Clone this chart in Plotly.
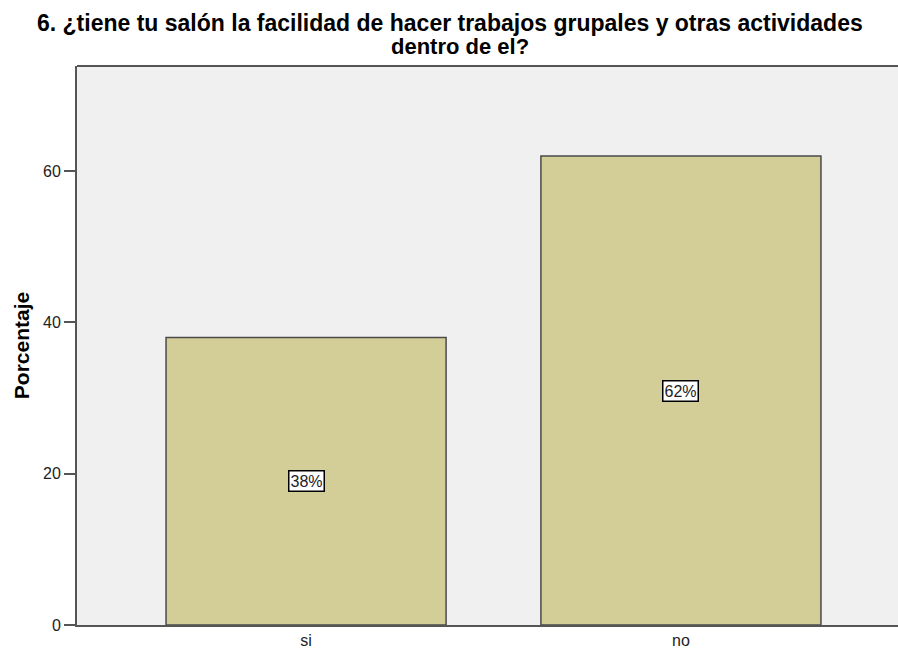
import plotly.graph_objects as go

categories = ["si", "no"]
percentages = [38, 62]
label_texts = ["38%", "62%"]
y_ticks = [0, 20, 40, 60]
title_lines = ["6. ¿tiene tu salón la facilidad de hacer trabajos grupales y otras actividades",
               "dentro de el?"]

FONT = "Liberation Sans, Arial"

fig = go.Figure()
fig.add_trace(go.Bar(
    x=categories, y=percentages, width=0.747,
    marker=dict(color="#d3ce97", line=dict(color="#4a4a4a", width=1.5)),
    hoverinfo="skip",
))

for c, v, t in zip(categories, percentages, label_texts):
    fig.add_annotation(x=c, y=v / 2, text=t, showarrow=False,
                       bgcolor="white", bordercolor="black", borderwidth=1.5, borderpad=1,
                       font=dict(family=FONT, size=16, color="#222"))

# title lines (paper coordinates, above the plot)
fig.add_annotation(xref="paper", yref="paper", x=0.454, y=1.0770, yanchor="middle",
                   text="<b>" + title_lines[0] + "</b>", showarrow=False,
                   font=dict(family=FONT, size=23, color="black"))
fig.add_annotation(xref="paper", yref="paper", x=0.466, y=1.0340, yanchor="middle",
                   text="<b>" + title_lines[1] + "</b>", showarrow=False,
                   font=dict(family=FONT, size=22, color="black"))

fig.add_shape(type="line", xref="paper", yref="paper", x0=0, x1=1, y0=1, y1=1,
              line=dict(color="#555", width=2))

fig.update_layout(
    width=898, height=654,
    margin=dict(l=77, r=0, t=66, b=29),
    paper_bgcolor="white", plot_bgcolor="#f0f0f0",
    showlegend=False,
    xaxis=dict(
        range=[-0.611, 1.579], showgrid=False, zeroline=False,
        showline=True, linecolor="#555", linewidth=2,
        ticks="", tickfont=dict(family=FONT, size=16, color="#222"),
    ),
    yaxis=dict(
        range=[0, 73.9], tickvals=y_ticks, showgrid=False, zeroline=False,
        showline=True, linecolor="#555", linewidth=2,
        ticks="outside", ticklen=11, tickcolor="#555", tickwidth=1.5,
        tickfont=dict(family=FONT, size=16, color="#222"),
        title=dict(text="<b>Porcentaje</b>", standoff=8,
                   font=dict(family=FONT, size=21, color="black")),
    ),
)

fig.write_html("out.html", post_script="document.body.style.margin='0px';",
               config={"displayModeBar": False})
